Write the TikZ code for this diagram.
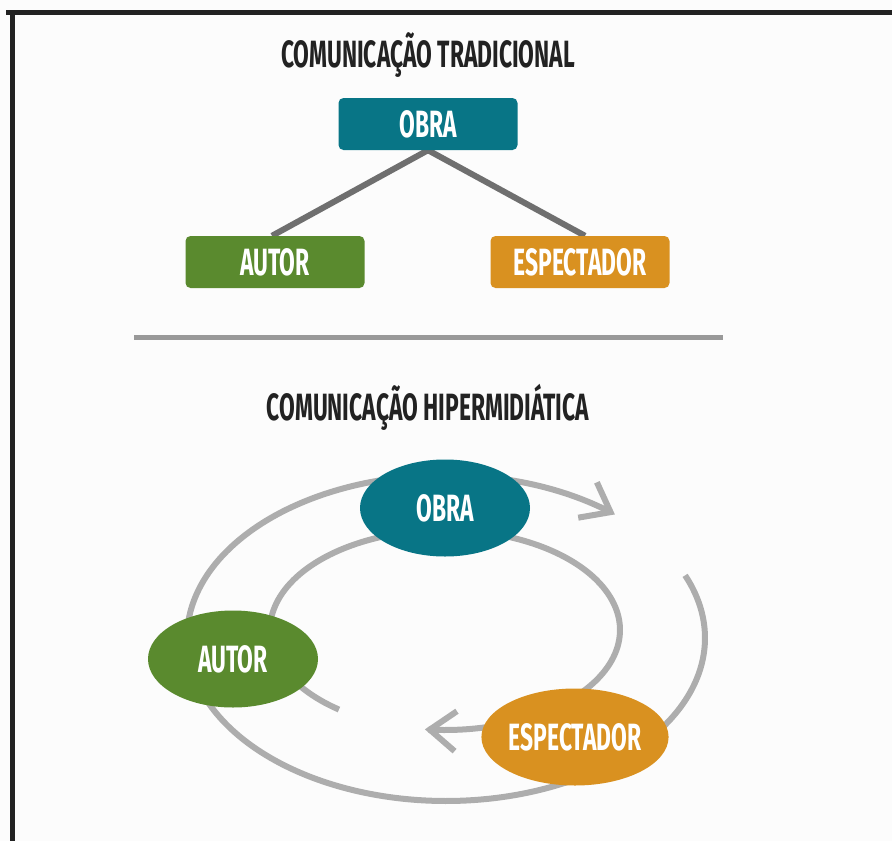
\documentclass[tikz,border=0pt]{standalone}
\usepackage{fontspec}
\newfontfamily\condfont[FakeStretch=0.6]{Fira Sans}
\usetikzlibrary{shapes.geometric,arrows.meta}
\definecolor{teal1}{HTML}{087586}
\definecolor{green1}{HTML}{5A8A2E}
\definecolor{orange1}{HTML}{D99120}
\definecolor{link1}{HTML}{6F6F6F}
\definecolor{arc1}{HTML}{ADADAD}
\definecolor{sep1}{HTML}{999999}
\definecolor{ink1}{HTML}{222222}
\definecolor{bg1}{HTML}{FCFCFC}
\pgfdeclarelayer{bg}
\pgfsetlayers{bg,main}
\tikzset{
  lbl/.style={font=\condfont\bfseries\fontsize{38}{40}\selectfont},
  title/.style={lbl, text=ink1},
  box/.style={lbl, text=white, rounded corners=5pt, minimum width=179pt, minimum height=52pt, inner sep=0pt},
  oval/.style={lbl, text=white, ellipse, minimum width=170pt, minimum height=97pt, inner sep=0pt},
  link/.style={draw=link1, line width=6pt},
  loop/.style={draw=arc1, line width=6pt},
  barb/.style={-{Straight Barb[length=26pt,width=40pt]}},
}
\begin{document}
\begin{tikzpicture}[x=1pt,y=-1pt]
\useasboundingbox (0,0) rectangle (892,841);
\begin{pgfonlayer}{bg}
\fill[bg1] (0,0) rectangle (892,841);
\end{pgfonlayer}
% frame
\draw[ink1, line width=5pt] (6,12.5) -- (892,12.5);
\draw[ink1, line width=5pt] (12,10) -- (12,841);

% traditional
\node[title] (t1) at (428,55) {COMUNICAÇÃO TRADICIONAL};
\node[box, fill=teal1] (obra1) at (428,124) {OBRA};
\node[box, fill=green1] (autor1) at (275,262) {AUTOR};
\node[box, fill=orange1] (esp1) at (580,262) {ESPECTADOR};
\begin{pgfonlayer}{bg}
\draw[link] (obra1.south) -- ([xshift=-3pt]autor1.north);
\draw[link] (obra1.south) -- ([xshift=5pt]esp1.north);
\end{pgfonlayer}

\draw[sep1, line width=5pt] (134,337) -- (723,337);

% hypermedia
\node[title] (t2) at (428,407) {COMUNICAÇÃO HIPERMIDIÁTICA};
\draw[loop, barb] plot[domain=-22.6:310.7, samples=160, smooth, variable=\t]
  ({446+259*cos(\t)},{638+163*sin(\t)});
\draw[loop, barb] plot[domain=127.3:456.6, samples=160, smooth, variable=\t]
  ({445+175*cos(\t)},{630+100*sin(\t)});
\node[oval, fill=teal1] (obra2) at (445,508) {OBRA};
\node[oval, fill=green1] (autor2) at (233,659) {AUTOR};
\node[oval, fill=orange1] (esp2) at (575,737) {ESPECTADOR};
\end{tikzpicture}
\end{document}
